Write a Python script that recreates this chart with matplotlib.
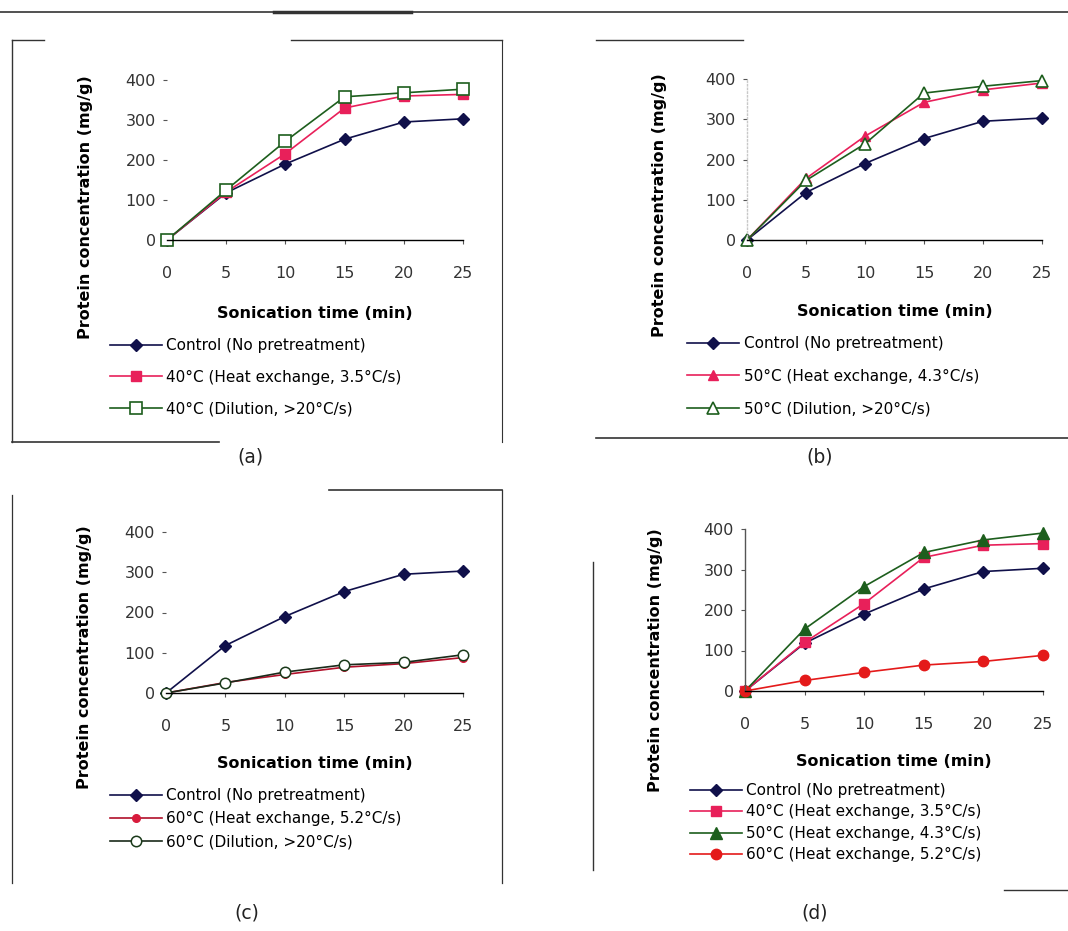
import matplotlib.pyplot as plt
from matplotlib.lines import Line2D

plt.rcParams['font.family'] = ['DejaVu Sans']

time_min = [0, 5, 10, 15, 20, 25]
y_ticks = [0, 100, 200, 300, 400]

control = [0, 118, 190, 252, 295, 303]
heat_40 = [0, 120, 216, 330, 360, 364]
dil_40 = [0, 125, 247, 358, 368, 377]
heat_50 = [0, 153, 258, 342, 373, 390]
dil_50 = [0, 148, 239, 365, 382, 396]
heat_60 = [0, 26, 46, 64, 73, 88]
dil_60 = [0, 25, 52, 70, 76, 95]

lab_ctrl = 'Control (No pretreatment)'
lab_h40 = '40°C (Heat exchange, 3.5°C/s)'
lab_d40 = '40°C (Dilution, >20°C/s)'
lab_h50 = '50°C (Heat exchange, 4.3°C/s)'
lab_d50 = '50°C (Dilution, >20°C/s)'
lab_h60 = '60°C (Heat exchange, 5.2°C/s)'
lab_d60 = '60°C (Dilution, >20°C/s)'

navy = '#10104a'
pink = '#e8205a'
green = '#1d5e1d'
red = '#e41a1a'

W, H = 1068, 931
fig = plt.figure(figsize=(W / 100, H / 100), dpi=100)


def px_axes(x0, x1, ytop, ybot):
    return fig.add_axes([x0 / W, 1 - ybot / H, (x1 - x0) / W, (ybot - ytop) / H])


def style(ax, left_spine=None):
    ax.set_xlim(0, 25)
    ax.set_ylim(0, 400)
    ax.set_xticks(time_min)
    ax.set_yticks(y_ticks)
    for s in ['top', 'right']:
        ax.spines[s].set_visible(False)
    ax.spines['bottom'].set_linewidth(1.0)
    if left_spine is None:
        ax.spines['left'].set_visible(False)
    else:
        ax.spines['left'].set_color(left_spine)
        ax.spines['left'].set_linewidth(1.0)
    ax.tick_params(axis='x', direction='out', length=3, pad=16, labelsize=11.5,
                   labelcolor='#333333', color='#555555')
    ax.tick_params(axis='y', direction='out', length=3, pad=5, labelsize=11.5,
                   labelcolor='#333333', color='#555555')
    ax.set_xlabel('Sonication time (min)', fontsize=11.5, fontweight='bold')
    ax.xaxis.label.set_va('center')


def ylab(ax, x, y):
    ax.set_ylabel('Protein concentration (mg/g)', fontsize=11.5, fontweight='bold')
    ax.yaxis.label.set_va('center')
    ax.yaxis.set_label_coords(x, y)


def legend(ax, x, y, spacing):
    ax.legend(loc='upper left', bbox_to_anchor=(x, y), frameon=False, fontsize=11,
              handlelength=3.4, handletextpad=0.3, labelspacing=spacing,
              borderpad=0, borderaxespad=0)


kw = dict(linewidth=1.2, clip_on=False)

# (a)
ax = px_axes(167, 463, 80, 240)
ax.plot(time_min, control, color=navy, marker='D', markersize=6.5, label=lab_ctrl, **kw)
ax.plot(time_min, heat_40, color=pink, marker='s', markersize=7, label=lab_h40, **kw)
ax.plot(time_min, dil_40, color=green, marker='s', markersize=8, markerfacecolor='white',
        markeredgecolor=green, markeredgewidth=1.2, label=lab_d40, **kw)
style(ax)
ax.xaxis.set_label_coords(0.5, -(313 - 240) / 160)
ylab(ax, -0.277, 0.206)
legend(ax, -0.193, -0.6125, 1.1)

# (b)
ax = px_axes(747, 1042, 79, 240)
ax.plot(time_min, control, color=navy, marker='D', markersize=6.5, label=lab_ctrl, **kw)
ax.plot(time_min, heat_50, color=pink, marker='^', markersize=7.5, label=lab_h50, **kw)
ax.plot(time_min, dil_50, color=green, marker='^', markersize=8.5, markerfacecolor='white',
        markeredgecolor=green, markeredgewidth=1.2, label=lab_d50, **kw)
style(ax, left_spine='#c8c8c8')
ax.spines['left'].set_linestyle(':')
ax.xaxis.set_label_coords(0.5, -(312 - 240) / 161)
ylab(ax, -0.295, 0.217)
legend(ax, -0.203, -0.596, 1.15)

# (c)
ax = px_axes(166, 463, 532, 693)
ax.plot(time_min, control, color=navy, marker='D', markersize=6.5, label=lab_ctrl, **kw)
ax.plot(time_min, heat_60, color='#b0102a', marker='o', markersize=5.5,
        markerfacecolor='#d81b3c', markeredgecolor='#d81b3c', label=lab_h60, **kw)
ax.plot(time_min, dil_60, color='#1a2a1a', marker='o', markersize=7.5, markerfacecolor='white',
        markeredgecolor='#1a3a1a', markeredgewidth=1.1, label=lab_d60, **kw)
style(ax)
ax.xaxis.set_label_coords(0.5, -(763 - 693) / 161)
ylab(ax, -0.273, 0.224)
legend(ax, -0.189, -0.59, 0.55)

# (d)
ax = px_axes(745, 1043, 529, 691)
ax.plot(time_min, control, color=navy, marker='D', markersize=6.5, label=lab_ctrl, **kw)
ax.plot(time_min, heat_40, color=pink, marker='s', markersize=7, label=lab_h40, **kw)
ax.plot(time_min, heat_50, color=green, marker='^', markersize=8, label=lab_h50, **kw)
ax.plot(time_min, heat_60, color=red, marker='o', markersize=7.5, label=lab_h60, **kw)
style(ax, left_spine='#555555')
ax.xaxis.set_label_coords(0.5, -(762 - 691) / 162)
ylab(ax, -0.302, 0.19)
legend(ax, -0.185, -0.568, 0.42)

# panel captions
for x, y, t in [(250, 457, '(a)'), (820, 457, '(b)'), (247, 913, '(c)'), (815, 913, '(d)')]:
    fig.text(x / W, 1 - y / H, t, ha='center', va='center', fontsize=13.5, color='#222222')

# scanned page frame lines
frame = [
    ((0, 1068), (12, 12), 1.2),
    ((274, 411), (12, 12), 2.5),
    ((12, 12), (40, 442), 1.0),
    ((12, 44), (40, 40), 1.0),
    ((291, 502), (40, 40), 1.0),
    ((502, 502), (40, 442), 0.8),
    ((12, 219), (442, 442), 1.2),
    ((596, 743), (40, 40), 1.0),
    ((596, 1068), (438, 438), 1.2),
    ((329, 502), (490, 490), 1.2),
    ((12, 12), (495, 883), 0.9),
    ((502, 502), (490, 883), 0.9),
    ((593, 593), (562, 870), 1.0),
    ((1004, 1068), (890, 890), 1.0),
]
for xs, ys, lw in frame:
    fig.add_artist(Line2D([x / W for x in xs], [1 - y / H for y in ys],
                          color='#333333', linewidth=lw))

fig.savefig('out.png', dpi=100)
